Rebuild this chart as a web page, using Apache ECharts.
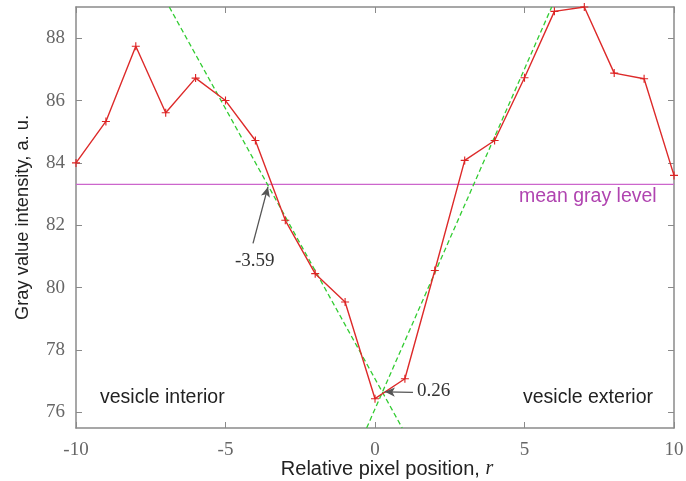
<!DOCTYPE html>
<html>
<head>
<meta charset="utf-8">
<script src="https://cdn.jsdelivr.net/npm/echarts@6/dist/echarts.min.js"></script>
<style>html,body{margin:0;padding:0;background:#fff}#c{width:686px;height:481px}</style>
</head>
<body>
<div id="c"></div>
<script>
const positions = [-10,-9,-8,-7,-6,-5,-4,-3,-2,-1,0,1,2,3,4,5,6,7,8,9,10];
const grayValues = [84.0,85.33,87.74,85.61,86.72,86.0,84.72,82.16,80.45,79.54,76.44,77.08,80.55,84.08,84.72,86.73,88.86,89.0,86.88,86.7,83.6];
const meanGray = 83.31;
const fitInterior = [[-6.88,89.0],[0.91,75.5]];
const fitExterior = [[-0.28,75.5],[5.91,89.0]];
const arrowEdge = [[-4.08,81.42],[-3.58,83.23]];
const arrowCross = [[1.27,76.64],[0.33,76.66]];
const xTicks = [-10,-5,0,5,10];
const yTicks = [76,78,80,82,84,86,88];

const chart = echarts.init(document.getElementById('c'), null, {renderer:'canvas'});
const serif = 'Liberation Serif';
const sans = 'Liberation Sans';
const axisCol = '#8a8a8a';
const plus = 'path://M4.3,0H5.7V10H4.3Z M0,4.3H10V5.7H0Z';

const xBase = {
  type:'value', min:-10, max:10, interval:5,
  axisLine:{show:true, onZero:false, lineStyle:{color:axisCol, width:1.5}},
  axisTick:{show:true, inside:true, length:6, lineStyle:{color:axisCol, width:1}},
  splitLine:{show:false}
};
const yTick = {show:true, inside:true, length:6, customValues:yTicks, lineStyle:{color:axisCol, width:1}};
const yBase = {
  type:'value', min:75.5, max:89,
  axisLine:{show:true, onZero:false, lineStyle:{color:axisCol, width:1.5}},
  axisTick:yTick,
  splitLine:{show:false}
};

chart.setOption({
  animation:false,
  grid:{left:76, right:12, top:7, bottom:53, containLabel:false, outerBoundsMode:'none'},
  xAxis:[
    Object.assign({}, xBase, {position:'bottom',
      axisLabel:{show:true, color:'#666', fontFamily:serif, fontSize:19, margin:13,
        formatter:v=> xTicks.includes(v)? String(v):''},
      name:'Relative pixel position, {i|r}', nameLocation:'middle', nameGap:31, nameMoveOverlap:false,
      nameTextStyle:{color:'#222', fontFamily:sans, fontSize:20, padding:[0,0,0,24],
        rich:{i:{fontFamily:serif, fontStyle:'italic', fontSize:20, color:'#222'}}}
    }),
    Object.assign({}, xBase, {position:'top', axisLabel:{show:false}})
  ],
  yAxis:[
    Object.assign({}, yBase, {position:'left',
      axisLabel:{show:true, color:'#666', fontFamily:serif, fontSize:19, margin:11,
        customValues: yTicks, formatter:v=>String(v)},
      name:'Gray value intensity, a. u.', nameLocation:'middle', nameGap:44, nameRotate:90, nameMoveOverlap:false,
      nameTextStyle:{color:'#222', fontFamily:sans, fontSize:18.3}
    }),
    Object.assign({}, yBase, {position:'right', axisLabel:{show:false}})
  ],
  series:[
    {type:'line', data:[[-10,meanGray],[10,meanGray]], symbol:'none',
     lineStyle:{color:'#cc66cc', width:1.2}, z:1},
    {type:'line', data:fitInterior, symbol:'none',
     lineStyle:{color:'#33cc33', width:1.3, type:[5,3]}, z:2},
    {type:'line', data:fitExterior, symbol:'none',
     lineStyle:{color:'#33cc33', width:1.3, type:[5,3]}, z:2},
    {type:'line', data:positions.map((p,i)=>[p,grayValues[i]]),
     symbol:plus, symbolSize:8, showAllSymbol:true,
     itemStyle:{color:'#dd2222'}, lineStyle:{color:'#dd2a2a', width:1.4}, z:3,
     markLine:{silent:true, symbol:['none','arrow'], symbolSize:[7,10], label:{show:false},
       lineStyle:{color:'#555', width:1.3, type:'solid'},
       data:[
         [{coord:arrowEdge[0]},{coord:arrowEdge[1]}],
         [{coord:arrowCross[0]},{coord:arrowCross[1]}]
       ]}
    }
  ],
  graphic:[
    {type:'text', left:100, top:388, style:{text:'vesicle interior', font:'19.5px '+sans, fill:'#222'}},
    {type:'text', left:523, top:388, style:{text:'vesicle exterior', font:'19.5px '+sans, fill:'#222'}},
    {type:'text', left:519, top:187, style:{text:'mean gray level', font:'19.5px '+sans, fill:'#b044b0'}},
    {type:'text', left:235, top:252, style:{text:'-3.59', font:'19px '+serif, fill:'#333'}},
    {type:'text', left:417, top:382, style:{text:'0.26', font:'19px '+serif, fill:'#333'}}
  ]
});
</script>
</body>
</html>
